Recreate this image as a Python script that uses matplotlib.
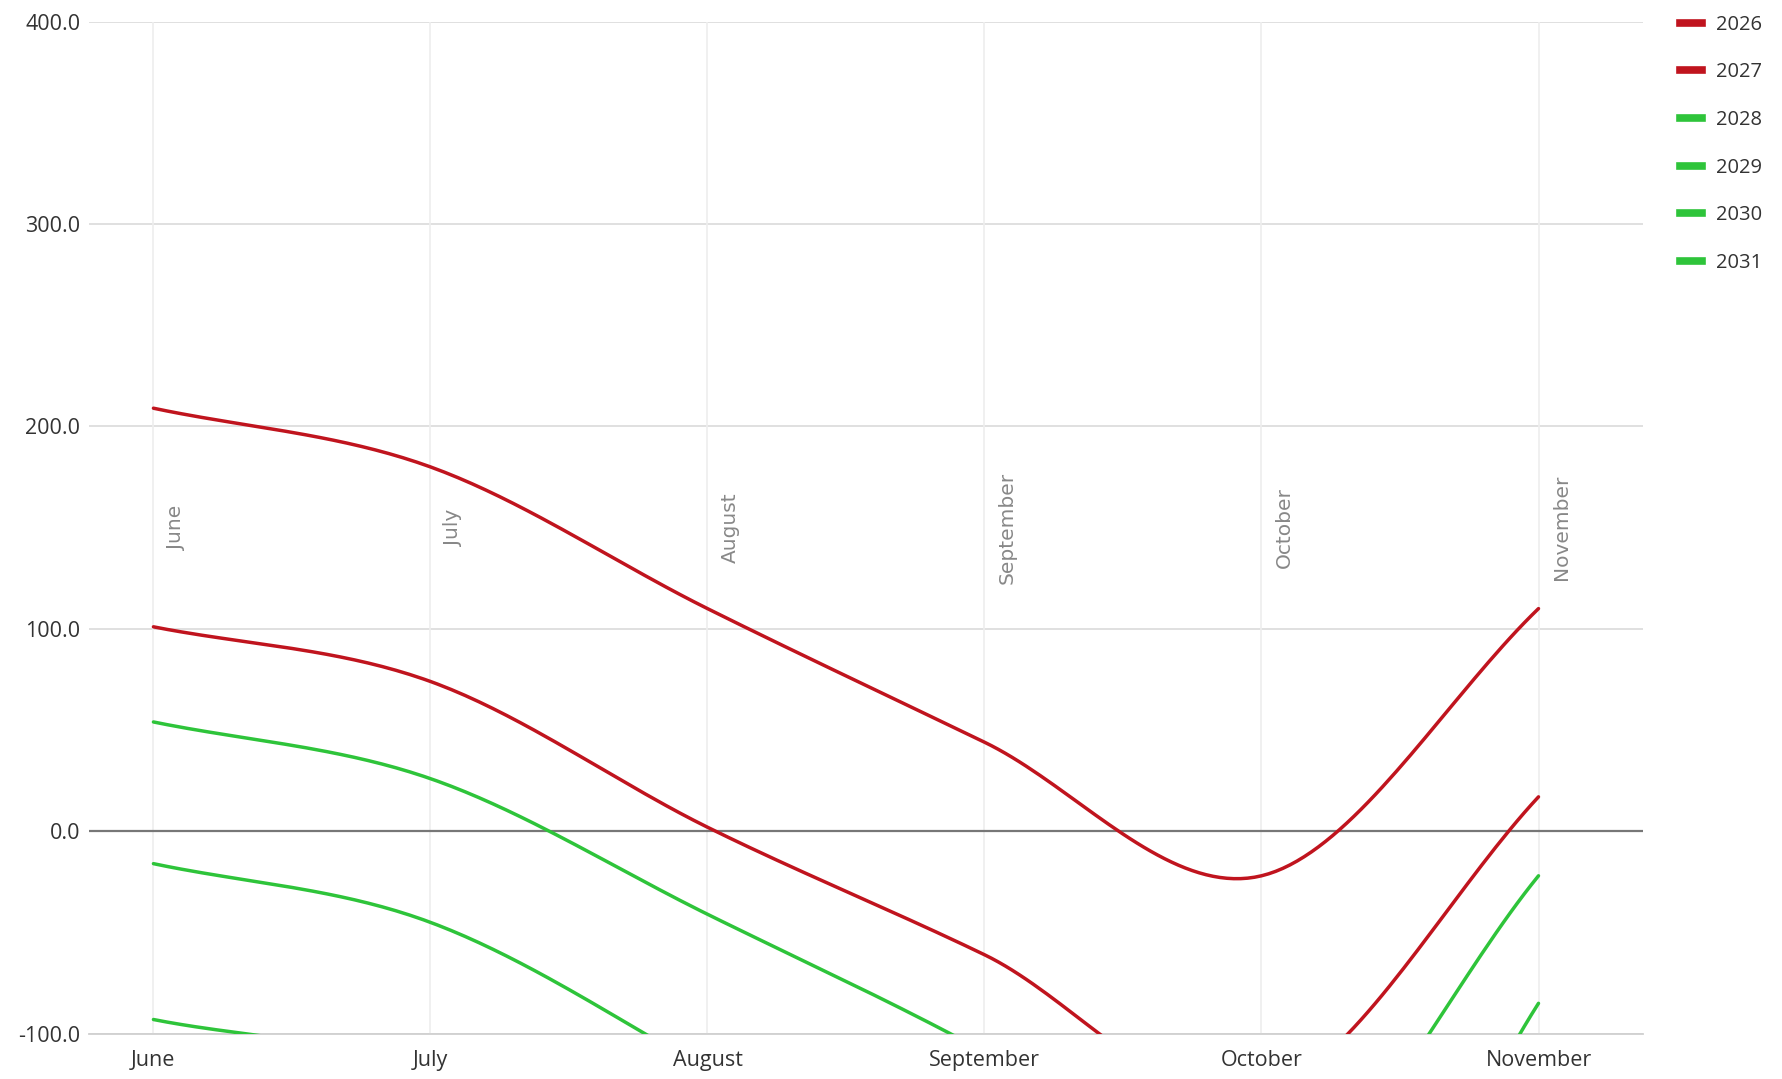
import numpy as np
import matplotlib
matplotlib.use("Agg")
import matplotlib.pyplot as plt
from matplotlib.lines import Line2D

months = ["June", "July", "August", "September", "October", "November"]
series_names = ["2026", "2027", "2028", "2029", "2030", "2031"]
s2026 = [209, 180, 110, 44, -22, 110]
s2027 = [101, 74, 2, -61, -130, 17]
s2028 = [54, 26, -41, -109, -190, -22]
s2029 = [-16, -45, -118, -200, -300, -85]
s2030 = [-93, -120, -200, -280, -380, -190]
s2031 = [-170, -200, -260, -330, -420, -260]
series_values = [s2026, s2027, s2028, s2029, s2030, s2031]
red = "#c0141e"
green = "#2ec43a"
series_colors = [red, red, green, green, green, green]
y_ticks = [-100, 0, 100, 200, 300, 400]


def catmull_rom(xs, ys, n=40):
    xs = np.asarray(xs, float)
    ys = np.asarray(ys, float)
    px = np.concatenate([[2 * xs[0] - xs[1]], xs, [2 * xs[-1] - xs[-2]]])
    py = np.concatenate([[2 * ys[0] - ys[1]], ys, [2 * ys[-1] - ys[-2]]])
    ox, oy = [], []
    for i in range(1, len(px) - 2):
        t = np.linspace(0, 1, n, endpoint=(i == len(px) - 3))
        for arr, out in ((px, ox), (py, oy)):
            p0, p1, p2, p3 = arr[i - 1], arr[i], arr[i + 1], arr[i + 2]
            out.extend(0.5 * ((2 * p1) + (-p0 + p2) * t
                              + (2 * p0 - 5 * p1 + 4 * p2 - p3) * t ** 2
                              + (-p0 + 3 * p1 - 3 * p2 + p3) * t ** 3))
    return np.array(ox), np.array(oy)


fig = plt.figure(figsize=(17.83, 10.79), dpi=100)
ax = fig.add_axes([0.0497, 0.042, 0.8719, 0.938])
xs = np.arange(len(months))

for name, vals, col in zip(series_names, series_values, series_colors):
    cx, cy = catmull_rom(xs, vals)
    ax.plot(cx, cy, color=col, lw=2.5, solid_capstyle="round", zorder=3)

ax.set_xlim(-0.234, 5.378)
ax.set_ylim(-100, 400)
ax.set_yticks(y_ticks)
ax.set_yticklabels([f"{v:.1f}" for v in y_ticks], fontsize=15.5,
                   family="Open Sans", color="#333333")
ax.set_xticks(xs)
ax.set_xticklabels(months, fontsize=15.5, family="Open Sans", color="#333333")
ax.tick_params(axis="both", length=0)
ax.tick_params(axis="x", pad=12)
ax.tick_params(axis="y", pad=6)

for v in y_ticks:
    if v == 0:
        ax.axhline(v, color="#777777", lw=1.6, zorder=2)
    else:
        ax.axhline(v, color="#dddddd", lw=1.3, zorder=1)
for x in xs:
    ax.axvline(x, color="#eeeeee", lw=1.2, zorder=1)

for s in ["top", "right", "left"]:
    ax.spines[s].set_visible(False)
ax.spines["bottom"].set_color("#d0d0d0")
ax.spines["bottom"].set_linewidth(1.3)

for x, m in zip(xs, months):
    ax.text(x + 0.083, 150, m, rotation=90, ha="center", va="center",
            fontsize=14.5, color="#888888", family="DejaVu Sans",
            zorder=4)

handles = [Line2D([0], [0], color=c, lw=5.5) for c in series_colors]
leg = fig.legend(handles, series_names, loc="upper left",
                 bbox_to_anchor=(0.932, 1.003), frameon=False,
                 handlelength=1.1, handletextpad=0.7,
                 labelspacing=1.37, prop={"family": "Open Sans", "size": 14.5})
for t in leg.get_texts():
    t.set_color("#333333")

fig.savefig("out.png", dpi=100, facecolor="white")
